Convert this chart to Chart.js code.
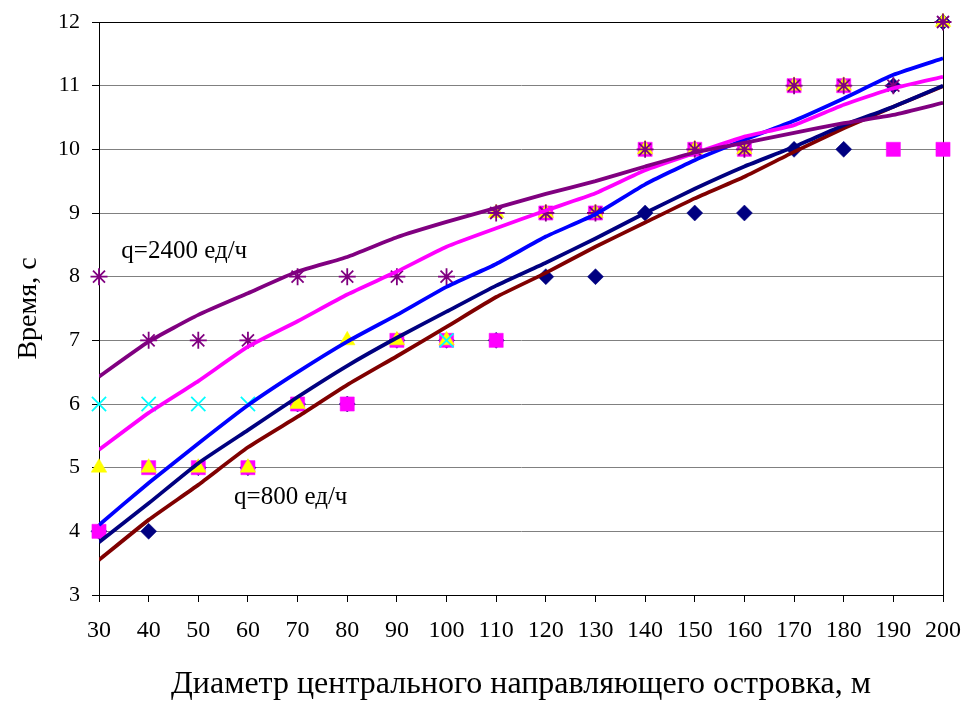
<!DOCTYPE html>
<html>
<head>
<meta charset="utf-8">
<script src="https://cdn.jsdelivr.net/npm/chart.js@4/dist/chart.umd.min.js"></script>
<style>
  html, body { margin: 0; padding: 0; background: #fff; }
  #wrap { width: 966px; height: 702px; }
</style>
</head>
<body>
<div id="wrap"><canvas id="c" width="966" height="702"></canvas></div>
<script>
// ---- data ----
const diameters = [30, 40, 50, 60, 70, 80, 90, 100, 110, 120, 130, 140, 150, 160, 170, 180, 190, 200];
const yTickValues = [3, 4, 5, 6, 7, 8, 9, 10, 11, 12];

// observed points (markers)
const obsDiamond  = [4, 4, 5, 5, 6, 6, 7, 7, 7, 8, 8, 9, 9, 9, 10, 10, 11, 12];
const obsSquare   = [4, 5, 5, 5, 6, 6, 7, 7, 7, 9, 9, 10, 10, 10, 11, 11, 10, 10];
const obsTriangle = [5, 5, 5, 5, 6, 7, 7, 7, 9, 9, 9, 10, 10, 10, 11, 11, null, 12];
const obsCross    = [6, 6, 6, 6, null, null, null, 7, null, null, null, null, null, null, null, null, null, null];
const obsStar     = [8, 7, 7, 7, 8, 8, 8, 8, 9, 9, 9, 10, 10, 10, 11, 11, 11, 12];

// model curves
const curve2400 = [6.43, 6.98, 7.40, 7.74, 8.08, 8.31, 8.62, 8.86, 9.08, 9.30, 9.50, 9.73, 9.95, 10.10, 10.26, 10.41, 10.54, 10.73];
const curveB    = [5.28, 5.86, 6.36, 6.90, 7.30, 7.72, 8.08, 8.47, 8.76, 9.04, 9.31, 9.67, 9.94, 10.20, 10.38, 10.70, 10.96, 11.14];
const curveC    = [4.10, 4.76, 5.38, 5.98, 6.50, 6.98, 7.40, 7.84, 8.20, 8.63, 8.98, 9.45, 9.83, 10.15, 10.45, 10.80, 11.17, 11.43];
const curveD    = [3.83, 4.44, 5.07, 5.59, 6.11, 6.60, 7.04, 7.45, 7.86, 8.22, 8.60, 9.00, 9.38, 9.73, 10.04, 10.38, 10.67, 11.00];
const curve800  = [3.55, 4.18, 4.73, 5.32, 5.80, 6.30, 6.75, 7.21, 7.68, 8.06, 8.47, 8.85, 9.23, 9.57, 9.96, 10.33, 10.67, 10.99];

const labels = [
  { text: 'q=2400 ед/ч', x: 34.5, y: 8.39 },
  { text: 'q=800 ед/ч',  x: 57.2, y: 4.54 }
];

const xTitle = 'Диаметр центрального направляющего островка, м';
const yTitle = 'Время, с';

// ---- build ----
const pts = arr => diameters.map((d, i) => ({ x: d, y: arr[i] }));

function markerSet(arr, style, color, radius, order, fill) {
  return {
    data: pts(arr),
    showLine: false,
    clip: false,
    pointStyle: style,
    pointRadius: radius,
    pointHoverRadius: radius,
    pointBackgroundColor: fill ? color : 'rgba(0,0,0,0)',
    pointBorderColor: color,
    pointBorderWidth: fill ? 0.5 : 1.8,
    order: order
  };
}
function curveSet(arr, color, order) {
  return {
    data: pts(arr),
    showLine: true,
    borderColor: color,
    borderWidth: 3.8,
    pointRadius: 0,
    tension: 0.15,
    fill: false,
    order: order
  };
}

const serif = "'Liberation Serif', 'Times New Roman', serif";

const overlay = {
  id: 'overlay',
  beforeDatasetsDraw(chart) {
    const { ctx, chartArea } = chart;
    ctx.save();
    ctx.strokeStyle = '#000';
    ctx.lineWidth = 1;
    ctx.strokeRect(Math.round(chartArea.left) + 0.5, Math.round(chartArea.top) + 0.5,
                   Math.round(chartArea.right - chartArea.left), Math.round(chartArea.bottom - chartArea.top));
    ctx.restore();
  },
  afterDatasetsDraw(chart) {
    const { ctx, scales } = chart;
    ctx.save();
    ctx.fillStyle = '#000';
    ctx.font = '25px ' + serif;
    ctx.textBaseline = 'middle';
    ctx.textAlign = 'left';
    labels.forEach(l => {
      ctx.fillText(l.text, scales.x.getPixelForValue(l.x), scales.y.getPixelForValue(l.y));
    });
    ctx.restore();
  }
};

new Chart(document.getElementById('c'), {
  type: 'line',
  data: {
    datasets: [
      curveSet(curve2400, '#800080', 1),
      curveSet(curveB, '#FF00FF', 2),
      curveSet(curveC, '#0000FF', 3),
      curveSet(curveD, '#000080', 4),
      curveSet(curve800, '#800000', 5),
      markerSet(obsStar, 'star', '#800080', 8.5, 10, false),
      markerSet(obsCross, 'crossRot', '#00FFFF', 10, 11, false),
      markerSet(obsTriangle, 'triangle', '#FFFF00', 9, 12, true),
      markerSet(obsSquare, 'rect', '#FF00FF', 10, 13, true),
      markerSet(obsDiamond, 'rectRot', '#000080', 8, 14, true)
    ]
  },
  options: {
    responsive: false,
    animation: false,
    layout: { padding: { left: 13, right: 23, top: 22, bottom: 0 } },
    plugins: { legend: { display: false }, tooltip: { enabled: false } },
    scales: {
      x: {
        type: 'linear',
        min: 30, max: 200,
        afterBuildTicks(axis) { axis.ticks = diameters.map(v => ({ value: v })); },
        afterFit(axis) { axis.height = 107; axis.paddingLeft = 0; axis.paddingRight = 0; },
        grid: { drawOnChartArea: false, drawTicks: true, tickLength: 7, color: '#000', tickColor: '#000' },
        border: { display: true, color: '#000', width: 1 },
        ticks: { color: '#000', font: { family: serif, size: 24 }, padding: 14, maxRotation: 0, autoSkip: false },
        title: { display: true, text: xTitle, color: '#000', font: { family: serif, size: 32, lineHeight: 1.1 }, padding: { top: 0, bottom: 0 } }
      },
      y: {
        type: 'linear',
        min: 3, max: 12,
        afterBuildTicks(axis) { axis.ticks = yTickValues.map(v => ({ value: v })); },
        afterFit(axis) { axis.width = 86; axis.paddingTop = 0; axis.paddingBottom = 0; },
        grid: { drawOnChartArea: true, drawTicks: true, tickLength: 7, color: '#808080', tickColor: '#000', lineWidth: 1 },
        border: { display: true, color: '#000', width: 1 },
        ticks: { color: '#000', font: { family: serif, size: 22 }, padding: 12 },
        title: { display: true, text: yTitle, color: '#000', font: { family: serif, size: 28, lineHeight: 1.1 }, padding: { top: 0, bottom: 0 } }
      }
    }
  },
  plugins: [overlay]
});
</script>
</body>
</html>
